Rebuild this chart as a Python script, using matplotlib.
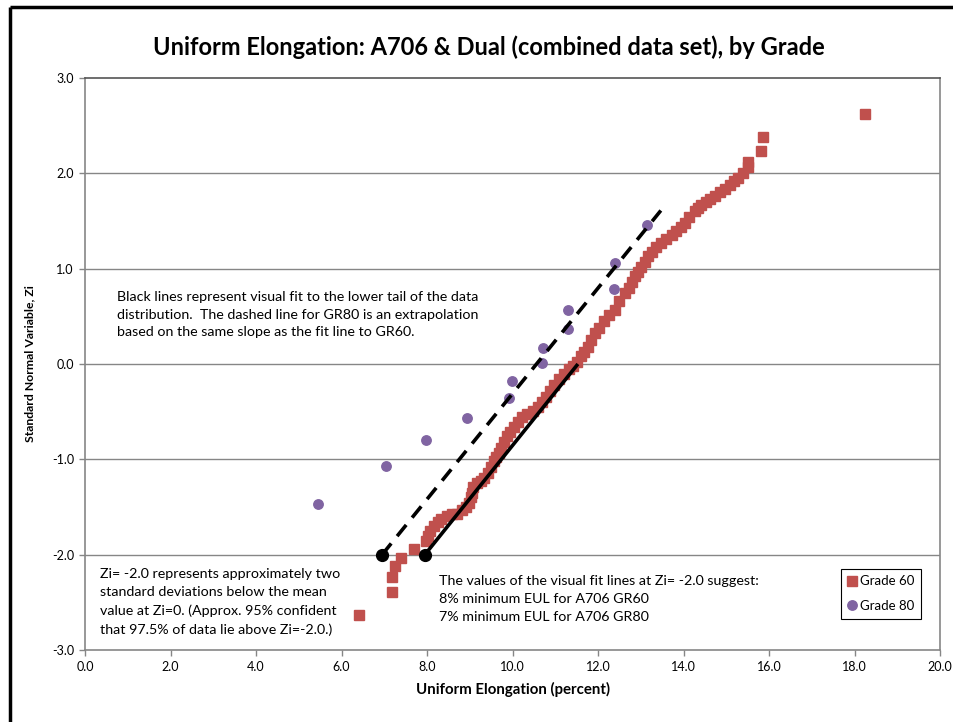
import matplotlib
matplotlib.use("Agg")
import matplotlib.pyplot as plt
from matplotlib.lines import Line2D

# Grade 60 (A706 & Dual)
g60_x = [6.41, 7.19, 7.19, 7.25, 7.39, 7.70, 7.97, 8.03, 8.08, 8.17, 8.25, 8.32,
         8.46, 8.58, 8.71, 8.83, 8.92, 8.99, 9.03, 9.06, 9.08, 9.18, 9.26, 9.34,
         9.42, 9.50, 9.57, 9.62, 9.68, 9.73, 9.80, 9.88, 9.95, 10.03, 10.12, 10.22,
         10.35, 10.47, 10.59, 10.68, 10.78, 10.88, 10.98, 11.08, 11.21, 11.32, 11.42,
         11.52, 11.61, 11.68, 11.76, 11.84, 11.92, 12.03, 12.15, 12.26, 12.39, 12.50,
         12.62, 12.72, 12.80, 12.86, 12.94, 13.01, 13.09, 13.17, 13.26, 13.36, 13.48,
         13.60, 13.72, 13.83, 13.95, 14.03, 14.14, 14.26, 14.35, 14.42, 14.52, 14.61,
         14.73, 14.85, 14.96, 15.08, 15.18, 15.28, 15.40, 15.50, 15.50, 15.81, 15.86,
         18.24]
g60_zi = [-2.63, -2.39, -2.23, -2.12, -2.03, -1.94, -1.86, -1.80, -1.75, -1.70, -1.66, -1.63,
          -1.59, -1.57, -1.57, -1.53, -1.50, -1.46, -1.40, -1.35, -1.29, -1.25, -1.23, -1.20,
          -1.14, -1.08, -1.02, -0.98, -0.93, -0.88, -0.82, -0.76, -0.71, -0.66, -0.61, -0.56,
          -0.52, -0.49, -0.45, -0.40, -0.35, -0.28, -0.22, -0.16, -0.10, -0.05, -0.02,
          0.02, 0.08, 0.13, 0.18, 0.25, 0.32, 0.38, 0.45, 0.51, 0.57, 0.66,
          0.74, 0.80, 0.86, 0.92, 0.97, 1.02, 1.07, 1.13, 1.18, 1.23, 1.27,
          1.31, 1.35, 1.39, 1.44, 1.48, 1.54, 1.60, 1.64, 1.67, 1.70, 1.73,
          1.76, 1.80, 1.84, 1.88, 1.92, 1.95, 2.00, 2.07, 2.12, 2.23, 2.38,
          2.62]

# Grade 80
g80_x = [5.44, 7.03, 7.97, 8.93, 9.92, 9.99, 10.69, 10.71, 11.30, 11.30, 12.38, 12.40, 13.15]
g80_zi = [-1.47, -1.07, -0.80, -0.57, -0.36, -0.18, 0.01, 0.17, 0.37, 0.57, 0.79, 1.06, 1.46]

# visual fit lines
fit60_x = [7.95, 11.53]
fit60_zi = [-2.0, 0.0]
fit80_x = [6.95, 13.47]
fit80_zi = [-2.0, 1.61]

x_ticks = [0, 2, 4, 6, 8, 10, 12, 14, 16, 18, 20]
y_ticks = [-3, -2, -1, 0, 1, 2, 3]

red = "#C0504D"
purple = "#8064A2"
gray = "#868686"

plt.rcParams['font.family'] = ['Lato', 'DejaVu Sans']

fig = plt.figure(figsize=(9.54, 7.22), dpi=100)
ax = fig.add_axes([85 / 954, 1 - 650 / 722, 855 / 954, 572 / 722])

for yv in [-2, -1, 0, 1, 2]:
    ax.axhline(yv, color=gray, lw=1.0, zorder=1)

ax.plot(g60_x, g60_zi, ls="none", marker="s", ms=7.8, color=red, mec=red,
        label="Grade 60", zorder=3)
ax.plot(g80_x, g80_zi, ls="none", marker="o", ms=6.8, color=purple, mec=purple,
        label="Grade 80", zorder=3)

ax.plot(fit60_x, fit60_zi, color="black", lw=2.6, zorder=4, solid_capstyle="butt")
ax.plot(fit80_x, fit80_zi, color="black", lw=2.6, dashes=(4, 2.6), zorder=4)
ax.plot([fit80_x[0], fit60_x[0]], [fit80_zi[0], fit60_zi[0]], ls="none", marker="o",
        ms=8.5, color="black", zorder=5)

ax.set_xlim(0, 20)
ax.set_ylim(-3, 3)
ax.set_xticks(x_ticks)
ax.set_yticks(y_ticks)
ax.set_xticklabels([f"{v:.1f}" for v in x_ticks])
ax.set_yticklabels([f"{v:.1f}" for v in y_ticks])
ax.tick_params(direction="out", length=4, width=1, color=gray, labelsize=9, pad=4)
for s in ax.spines.values():
    s.set_color(gray)
    s.set_linewidth(1.2)
ax.spines["top"].set_color("#555555")

ax.set_xlabel("Uniform Elongation (percent)", fontsize=10.8, fontweight="bold", labelpad=6)
ax.set_ylabel("Standard Normal Variable, Zi", fontsize=8.8, fontweight="bold", labelpad=12)

fig.text(0.512, 0.935, "Uniform Elongation: A706 & Dual (combined data set), by Grade",
         ha="center", va="center", fontsize=17, fontweight="bold")

ax.text(0.75, 0.765, "Black lines represent visual fit to the lower tail of the data\n"
        "distribution.  The dashed line for GR80 is an extrapolation\n"
        "based on the same slope as the fit line to GR60.",
        ha="left", va="top", fontsize=10.3, linespacing=1.55)
ax.text(0.35, -2.145, "Zi= -2.0 represents approximately two\n"
        "standard deviations below the mean\n"
        "value at Zi=0. (Approx. 95% confident\n"
        "that 97.5% of data lie above Zi=-2.0.)",
        ha="left", va="top", fontsize=10.3, linespacing=1.6)
ax.text(8.28, -2.215, "The values of the visual fit lines at Zi= -2.0 suggest:\n"
        "8% minimum EUL for A706 GR60\n"
        "7% minimum EUL for A706 GR80",
        ha="left", va="top", fontsize=10.3, linespacing=1.6)

leg = ax.legend(loc="upper right", bbox_to_anchor=(0.978, 0.142), fontsize=9.5,
                handlelength=0.7, handletextpad=0.25, borderpad=0.5, labelspacing=0.95,
                borderaxespad=0, fancybox=False, framealpha=1, edgecolor="black")
leg.get_frame().set_linewidth(0.8)

# outer chart border (partly cropped)
fig.add_artist(Line2D([10 / 954, 10 / 954], [0, 1 - 7 / 722], color="black", lw=2.5,
                      solid_capstyle="butt", transform=fig.transFigure))
fig.add_artist(Line2D([10 / 954, 1], [1 - 7 / 722, 1 - 7 / 722], color="black", lw=2.5,
                      solid_capstyle="butt", transform=fig.transFigure))

fig.savefig("out.png", dpi=100)
